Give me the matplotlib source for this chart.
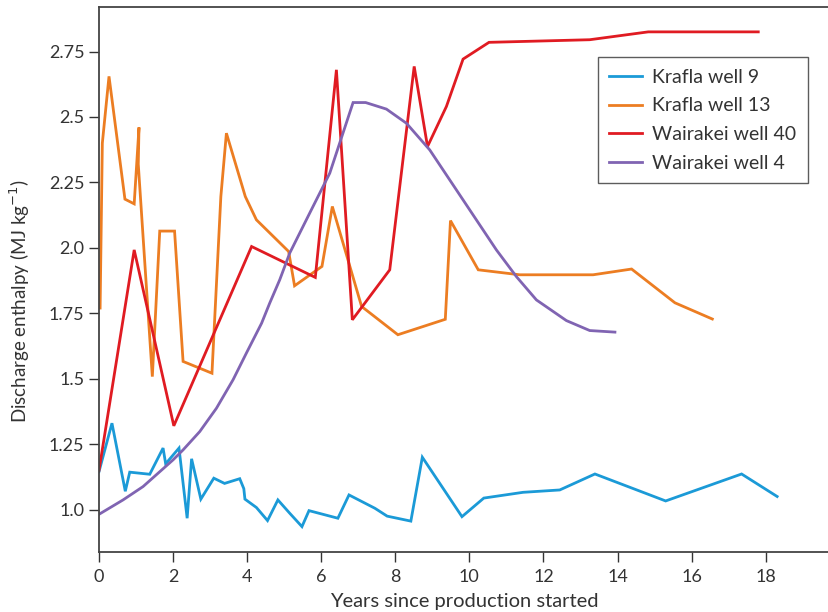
import matplotlib
matplotlib.use("Agg")
import matplotlib.pyplot as plt

plt.rcParams['font.family'] = ['Lato', 'DejaVu Sans']

# Krafla well 9
k9_x = [0.0, 0.35, 0.71, 0.83, 1.37, 1.73, 1.80, 2.16, 2.38, 2.50, 2.75, 3.10, 3.39, 3.80,
        3.91, 3.94, 4.25, 4.55, 4.83, 5.15, 5.48, 5.67, 6.45, 6.75, 7.45, 7.78, 8.42, 8.73,
        9.80, 10.39, 11.45, 12.44, 13.39, 15.30, 17.35, 18.31]
k9_y = [1.145, 1.33, 1.07, 1.143, 1.135, 1.235, 1.175, 1.235, 0.967, 1.194, 1.04, 1.12, 1.10, 1.118,
        1.08, 1.04, 1.008, 0.958, 1.037, 0.986, 0.935, 0.996, 0.967, 1.056, 1.005, 0.975, 0.956, 1.20,
        0.973, 1.044, 1.066, 1.075, 1.136, 1.033, 1.136, 1.05]

# Krafla well 13
k13_x = [0.03, 0.09, 0.27, 0.70, 0.95, 1.08, 1.06, 1.44, 1.64, 2.04, 2.27, 3.05, 3.29, 3.44,
         3.95, 4.25, 5.12, 5.28, 6.02, 6.30, 7.09, 8.07, 9.35, 9.49, 10.24, 11.36, 13.34,
         14.38, 15.55, 16.56]
k13_y = [1.77, 2.40, 2.655, 2.186, 2.168, 2.46, 2.32, 1.508, 2.064, 2.064, 1.566, 1.521, 2.196, 2.438,
         2.196, 2.107, 1.986, 1.855, 1.929, 2.158, 1.776, 1.668, 1.727, 2.104, 1.916, 1.897, 1.897,
         1.919, 1.79, 1.728]

# Wairakei well 40
w40_x = [0.0, 0.95, 2.02, 4.12, 5.84, 6.41, 6.84, 7.85, 8.51, 8.87, 9.38, 9.83, 10.53, 13.25,
         14.83, 17.80]
w40_y = [1.15, 1.992, 1.32, 2.005, 1.887, 2.68, 1.725, 1.916, 2.693, 2.387, 2.54, 2.721, 2.785, 2.795,
         2.825, 2.825]

# Wairakei well 4
w4_x = [0.0, 0.65, 1.19, 2.0, 2.27, 2.72, 3.17, 3.62, 3.98, 4.39, 4.61, 4.88, 5.15, 5.69, 6.23,
        6.86, 7.2, 7.76, 8.3, 8.93, 9.83, 10.73, 11.27, 11.81, 12.62, 13.25, 13.93]
w4_y = [0.982, 1.037, 1.088, 1.19, 1.228, 1.298, 1.387, 1.496, 1.598, 1.712, 1.789, 1.878, 1.98, 2.133,
        2.285, 2.555, 2.555, 2.53, 2.476, 2.374, 2.183, 1.992, 1.89, 1.801, 1.722, 1.684, 1.678]

series_names = ["Krafla well 9", "Krafla well 13", "Wairakei well 40", "Wairakei well 4"]
colors = ["#1b9ad7", "#ec7d22", "#e01b22", "#8064b2"]

x_ticks = [0, 2, 4, 6, 8, 10, 12, 14, 16, 18]
y_ticks = [1.0, 1.25, 1.5, 1.75, 2.0, 2.25, 2.5, 2.75]
y_tick_labels = ["1.0", "1.25", "1.5", "1.75", "2.0", "2.25", "2.5", "2.75"]

fig = plt.figure(figsize=(8.29, 6.12), dpi=100)
ax = fig.add_axes([99 / 829, 60 / 612, 730 / 829, 545 / 612])

for xs, ys, name, c in zip([k9_x, k13_x, w40_x, w4_x], [k9_y, k13_y, w40_y, w4_y], series_names, colors):
    ax.plot(xs, ys, color=c, lw=2.0, label=name, solid_joinstyle='miter')

ax.set_xlim(0, 19.71)
ax.set_ylim(0.838, 2.92)
ax.set_xticks(x_ticks)
ax.set_yticks(y_ticks)
ax.set_yticklabels(y_tick_labels)
ax.tick_params(axis='both', direction='out', length=7, width=1, color='#333333',
               labelsize=13, labelcolor='#333333')
ax.tick_params(axis='x', pad=5)
for s in ['left', 'bottom', 'top']:
    ax.spines[s].set_color('#444444')
    ax.spines[s].set_linewidth(1.3)
ax.spines['right'].set_visible(False)

ax.set_xlabel("Years since production started", fontsize=14.5, color='#333333', labelpad=6)
ax.set_ylabel("Discharge enthalpy (MJ kg$^{-1}$)", fontsize=13.5, color='#333333')
ax.yaxis.set_label_coords(-0.092, 0.46)

leg = ax.legend(loc='upper right', bbox_to_anchor=(0.971, 0.908), fontsize=14,
                frameon=True, fancybox=False, edgecolor='#333333', handlelength=1.7,
                borderpad=0.6, labelspacing=0.6, handletextpad=0.5, borderaxespad=0)
leg.get_frame().set_linewidth(1.0)
for t in leg.get_texts():
    t.set_color('#333333')

fig.savefig("out.png", dpi=100)
